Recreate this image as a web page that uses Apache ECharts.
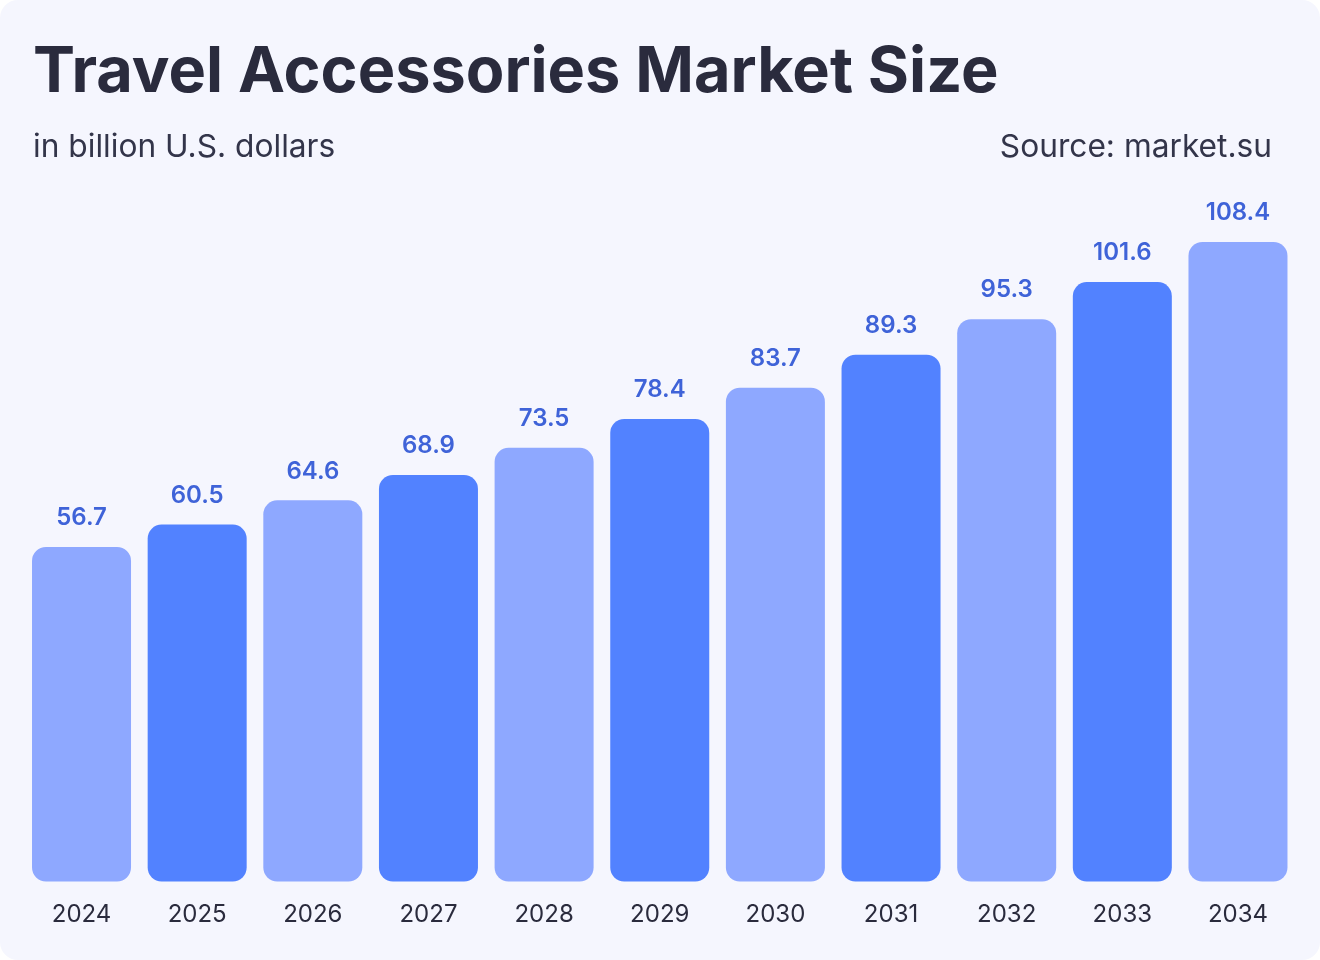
<!DOCTYPE html>
<html><head><meta charset="utf-8">
<script src="https://cdn.jsdelivr.net/npm/echarts@6/dist/echarts.min.js"></script>
<style>
html,body{margin:0;padding:0;background:#ffffff;}
#card{position:absolute;left:0;top:0;width:1320px;height:960px;background:#F5F6FE;border-radius:18px;overflow:hidden;}
#chart{width:1320px;height:960px;}
</style></head>
<body><div id="card"><div id="chart"></div></div>
<script>
const years = ['2024','2025','2026','2027','2028','2029','2030','2031','2032','2033','2034'];
const values = [56.7, 60.5, 64.6, 68.9, 73.5, 78.4, 83.7, 89.3, 95.3, 101.6, 108.4];
const lightColor = '#8EA8FF';
const darkColor = '#5282FF';
const titleText = 'Travel Accessories Market Size';
const subtitleText = 'in billion U.S. dollars';
const sourceText = 'Source: market.su';

const chart = echarts.init(document.getElementById('chart'), null, {renderer:'canvas'});
chart.setOption({
  backgroundColor: 'transparent',
  animation: false,
  textStyle: {fontFamily: 'Inter'},
  title: [
    {text: titleText, left: 28, top: 37, textStyle: {fontFamily:'Inter', fontWeight: 700, fontSize: 63, color: '#2A2B3D'}},
    {text: subtitleText, left: 28, top: 126, textStyle: {fontFamily:'Inter', fontWeight: 400, fontSize: 31.7, color: '#33354A'}},
    {text: sourceText, right: 43, top: 126, textStyle: {fontFamily:'Inter', fontWeight: 400, fontSize: 31.7, color: '#33354A'}}
  ],
  grid: {left: 23.7, right: 24.2, top: 173.5, bottom: 78.5, containLabel: false},
  xAxis: {
    type: 'category', data: years,
    axisLine: {show: false}, axisTick: {show: false},
    axisLabel: {fontFamily:'Inter', fontSize: 24, color: '#2A2B3D', margin: 21}
  },
  yAxis: {type: 'value', min: 0, max: 120, show: false, splitLine: {show: false}},
  series: [{
    type: 'bar',
    data: values.map((v, i) => ({value: v, itemStyle: {color: i % 2 === 0 ? lightColor : darkColor}})),
    barWidth: 99,
    itemStyle: {borderRadius: 14},
    label: {show: true, position: 'top', distance: 17, fontFamily:'Inter', fontWeight: 600, fontSize: 24, color: '#3F63D8',
      formatter: p => p.value.toFixed(1)}
  }]
});
</script>
</body></html>
